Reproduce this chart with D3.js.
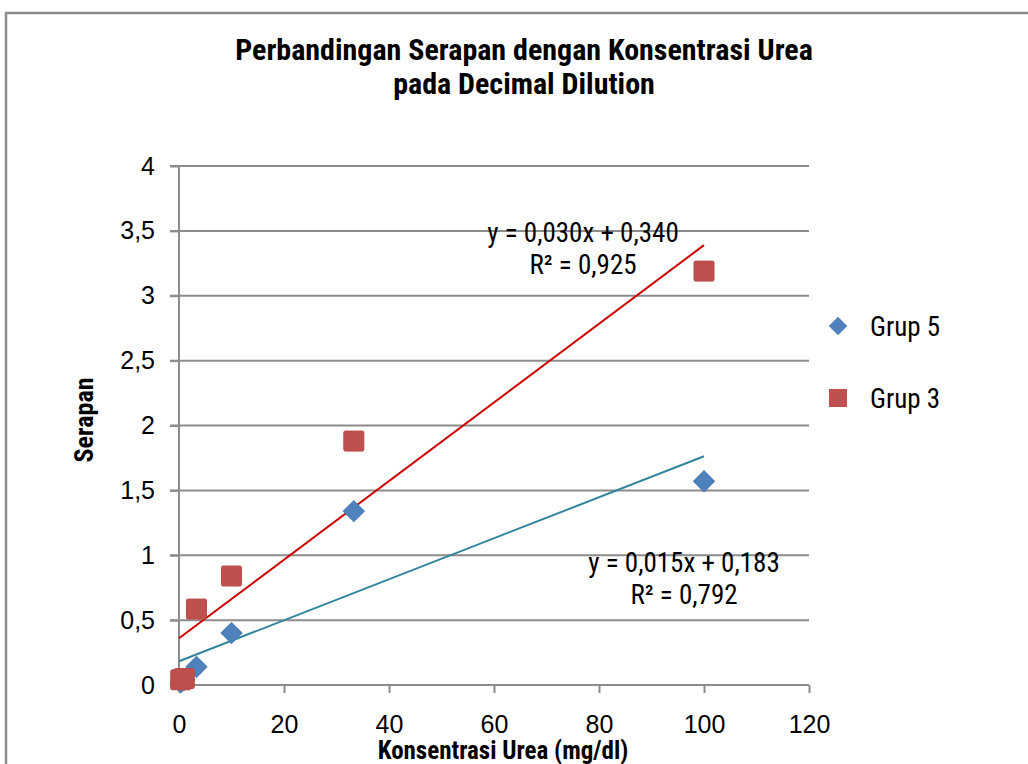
<!DOCTYPE html>
<html>
<head>
    <meta charset="utf-8">
    <title>Perbandingan Serapan dengan Konsentrasi Urea</title>
    <script src="https://cdn.jsdelivr.net/npm/d3@7"></script>
    <style>
        body { margin: 0; background: #fff; }
        svg { font-family: "Liberation Sans Narrow", "Roboto Condensed", "Liberation Sans", sans-serif; }
        .grid line { stroke: #8c8c8c; stroke-width: 2px; }
        .axis path, .axis line { stroke: #8c8c8c; stroke-width: 2px; }
        .axis text { font-size: 25px; fill: #000; }
    </style>
</head>
<body>
<svg width="1028" height="764"></svg>
<script>
    // ---- data ----
    var grup5X = [0.33, 1, 3.33, 10, 33.3, 100];
    var grup5Y = [0.02, 0.04, 0.14, 0.40, 1.34, 1.57];
    var grup3X = [0.33, 1, 3.33, 10, 33.3, 100];
    var grup3Y = [0.04, 0.05, 0.585, 0.84, 1.88, 3.19];
    // trend lines [slope, intercept] as drawn
    var trend5 = [0.0158, 0.183];
    var trend3 = [0.0303, 0.36];
    var trendLabels5 = ["y = 0,015x + 0,183", "R² = 0,792"];
    var trendLabels3 = ["y = 0,030x + 0,340", "R² = 0,925"];
    var xTicks = [0, 20, 40, 60, 80, 100, 120];
    var yTicks = [0, 0.5, 1, 1.5, 2, 2.5, 3, 3.5, 4];
    var seriesNames = ["Grup 5", "Grup 3"];

    var svg = d3.select("svg");
    var fmt = function (d) { return String(d).replace(".", ","); };

    var x = d3.scaleLinear().domain([0, 120]).range([179, 809]);
    var y = d3.scaleLinear().domain([0, 4]).range([685, 166]);

    // chart border (partly visible)
    svg.append("path")
        .attr("d", "M6,764 L6,13 L1028,13")
        .attr("fill", "none")
        .attr("stroke", "#8c8c8c")
        .attr("stroke-width", 2.5);

    // title
    var title = svg.append("text")
        .attr("text-anchor", "middle")
        .attr("font-weight", "bold")
        .attr("font-size", 30);
    title.append("tspan").attr("x", 524).attr("y", 60).text("Perbandingan Serapan dengan Konsentrasi Urea");
    title.append("tspan").attr("x", 524).attr("y", 94).text("pada Decimal Dilution");

    // horizontal gridlines
    svg.append("g").attr("class", "grid")
        .selectAll("line")
        .data(yTicks)
        .enter().append("line")
        .attr("x1", 170).attr("x2", 809)
        .attr("y1", function (d) { return y(d); })
        .attr("y2", function (d) { return y(d); });

    // y axis
    var yAxis = svg.append("g").attr("class", "axis")
        .attr("transform", "translate(179,0)")
        .call(d3.axisLeft(y).tickValues(yTicks).tickFormat(fmt).tickSize(9).tickPadding(15));
    yAxis.select(".domain").attr("d", "M0,166 V685");

    // x axis
    var xAxis = svg.append("g").attr("class", "axis")
        .attr("transform", "translate(0,685)")
        .call(d3.axisBottom(x).tickValues(xTicks).tickSize(8).tickPadding(22));
    xAxis.select(".domain").attr("d", "M170,0 H809");

    // axis titles
    svg.append("text")
        .attr("x", 503).attr("y", 759)
        .attr("text-anchor", "middle")
        .attr("font-weight", "bold")
        .attr("font-size", 25)
        .text("Konsentrasi Urea (mg/dl)");

    svg.append("text")
        .attr("transform", "translate(93,420) rotate(-90)")
        .attr("text-anchor", "middle")
        .attr("font-weight", "bold")
        .attr("font-size", 26)
        .text("Serapan");

    // trend lines
    function trendLine(t, color) {
        svg.append("line")
            .attr("x1", x(0)).attr("y1", y(t[1]))
            .attr("x2", x(100)).attr("y2", y(t[0] * 100 + t[1]))
            .attr("stroke", color)
            .attr("stroke-width", 2);
    }
    trendLine(trend5, "#31859c");
    trendLine(trend3, "#cc0000");

    // markers
    var diamond = d3.symbol().type(d3.symbolSquare).size(220);
    svg.append("g").selectAll("path")
        .data(d3.zip(grup5X, grup5Y))
        .enter().append("path")
        .attr("d", diamond)
        .attr("transform", function (d) { return "translate(" + x(d[0]) + "," + y(d[1]) + ") rotate(45)"; })
        .attr("fill", "#4f81bd")
        .attr("stroke", "#4a7ab5")
        .attr("stroke-width", 1);

    svg.append("g").selectAll("rect")
        .data(d3.zip(grup3X, grup3Y))
        .enter().append("rect")
        .attr("x", function (d) { return x(d[0]) - 10; })
        .attr("y", function (d) { return y(d[1]) - 10; })
        .attr("width", 20).attr("height", 20)
        .attr("rx", 1.5)
        .attr("fill", "#c0504d")
        .attr("stroke", "#b84a47")
        .attr("stroke-width", 1);

    // trend line labels
    function labels(lines, cx, cy) {
        svg.append("g").selectAll("text")
            .data(lines)
            .enter().append("text")
            .attr("x", cx)
            .attr("y", function (d, i) { return cy + i * 32; })
            .attr("text-anchor", "middle")
            .attr("font-size", 27)
            .text(function (d) { return d; });
    }
    labels(trendLabels3, 583, 242);
    labels(trendLabels5, 684, 572);

    // legend
    var legend = svg.append("g").selectAll("g")
        .data(seriesNames)
        .enter().append("g")
        .attr("transform", function (d, i) { return "translate(838," + (326 + i * 72) + ")"; });
    legend.filter(function (d, i) { return i === 0; }).append("path")
        .attr("d", d3.symbol().type(d3.symbolSquare).size(170))
        .attr("transform", "rotate(45)")
        .attr("fill", "#4f81bd");
    legend.filter(function (d, i) { return i === 1; }).append("rect")
        .attr("x", -9).attr("y", -9).attr("width", 18).attr("height", 18)
        .attr("fill", "#c0504d");
    legend.append("text")
        .attr("x", 32).attr("y", 10)
        .attr("font-size", 27)
        .text(function (d) { return d; });
</script>
</body>
</html>
